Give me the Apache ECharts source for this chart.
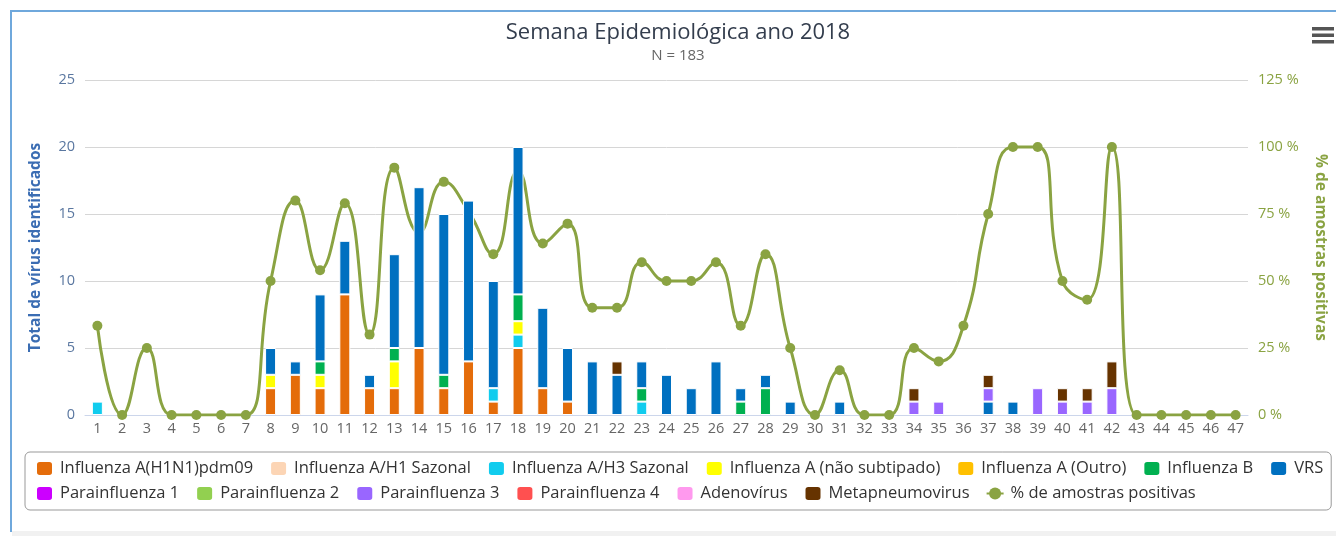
<!DOCTYPE html>
<html>
<head>
<meta charset="utf-8">
<script src="https://cdn.jsdelivr.net/npm/echarts@6/dist/echarts.min.js"></script>
<style>
  body { margin: 0; background: #fff; }
  #frame {
    position: absolute; left: 10px; top: 10px; width: 1330px; height: 520px;
    border-left: 2px solid #6fa8dc; border-top: 2px solid #6fa8dc;
  }
  #strip { position: absolute; left: 12px; top: 531px; width: 1324px; height: 5px; background: #f1f1f1; }
  #chart { position: absolute; left: 0; top: 0; width: 1336px; height: 536px; }
</style>
</head>
<body>
<div id="frame"></div>
<div id="strip"></div>
<div id="chart"></div>
<script>
var semanas = ['1','2','3','4','5','6','7','8','9','10','11','12','13','14','15','16','17','18','19','20',
  '21','22','23','24','25','26','27','28','29','30','31','32','33','34','35','36','37','38','39','40',
  '41','42','43','44','45','46','47'];

// virus counts per week (empty list = no cases in 2018)
var h1n1pdm09 = [0,0,0,0,0,0,0,2,3,2, 9,2,2,5,2,4,1,5,2,1, 0,0,0,0,0,0,0,0,0,0, 0,0,0,0,0,0,0,0,0,0, 0,0,0,0,0,0,0];
var h1Sazonal = [];
var h3Sazonal = [1,0,0,0,0,0,0,0,0,0, 0,0,0,0,0,0,1,1,0,0, 0,0,1,0,0,0,0,0,0,0, 0,0,0,0,0,0,0,0,0,0, 0,0,0,0,0,0,0];
var naoSubtipado = [0,0,0,0,0,0,0,1,0,1, 0,0,2,0,0,0,0,1,0,0, 0,0,0,0,0,0,0,0,0,0, 0,0,0,0,0,0,0,0,0,0, 0,0,0,0,0,0,0];
var fluAOutro = [];
var fluB = [0,0,0,0,0,0,0,0,0,1, 0,0,1,0,1,0,0,2,0,0, 0,0,1,0,0,0,1,2,0,0, 0,0,0,0,0,0,0,0,0,0, 0,0,0,0,0,0,0];
var vrs = [0,0,0,0,0,0,0,2,1,5, 4,1,7,12,12,12,8,11,6,4, 4,3,2,3,2,4,1,1,1,0, 1,0,0,0,0,0,1,1,0,0, 0,0,0,0,0,0,0];
var para1 = [];
var para2 = [];
var para3 = [0,0,0,0,0,0,0,0,0,0, 0,0,0,0,0,0,0,0,0,0, 0,0,0,0,0,0,0,0,0,0, 0,0,0,1,1,0,1,0,2,1, 1,2,0,0,0,0,0];
var para4 = [];
var adeno = [];
var metapneumo = [0,0,0,0,0,0,0,0,0,0, 0,0,0,0,0,0,0,0,0,0, 0,1,0,0,0,0,0,0,0,0, 0,0,0,1,0,0,1,0,0,1, 1,2,0,0,0,0,0];

// % de amostras positivas
var positivas = [33.3,0,25,0,0,0,0,50,80,54, 79,30,92.3,68,87,76,60,91,64,71.4,
  40,40,57,50,50,57,33.3,60,25,0, 16.7,0,0,25,20,33.3,75,100,100,50, 43,100,0,0,0,0,0];

var virus = [
  ['Influenza A(H1N1)pdm09', h1n1pdm09, '#e46c0a'],
  ['Influenza A/H1 Sazonal', h1Sazonal, '#fcd5b5'],
  ['Influenza A/H3 Sazonal', h3Sazonal, '#11ccee'],
  ['Influenza A (não subtipado)', naoSubtipado, '#ffff00'],
  ['Influenza A (Outro)', fluAOutro, '#ffc000'],
  ['Influenza B', fluB, '#00b050'],
  ['VRS', vrs, '#0070c0'],
  ['Parainfluenza 1', para1, '#cc00ff'],
  ['Parainfluenza 2', para2, '#92d050'],
  ['Parainfluenza 3', para3, '#9966ff'],
  ['Parainfluenza 4', para4, '#ff5050'],
  ['Adenovírus', adeno, '#ff99ee'],
  ['Metapneumovirus', metapneumo, '#663300']
];

var series = virus.map(function (v) {
  return {
    name: v[0],
    type: 'bar',
    stack: 'virus',
    barWidth: 11,
    z: 3,
    itemStyle: { color: v[2], borderColor: '#fff', borderWidth: 1 },
    data: v[1].map(function (n) { return n ? n : null; })
  };
});
series.push({
  name: '% de amostras positivas',
  type: 'line',
  yAxisIndex: 1,
  smooth: 0.5,
  z: 1,
  symbol: 'circle',
  symbolSize: 10,
  itemStyle: { color: '#8aa342' },
  lineStyle: { width: 3, color: '#8aa342' },
  data: positivas
});

var option = {
  animation: false,
  textStyle: { fontFamily: 'Open Sans' },
  title: {
    text: 'Semana Epidemiológica ano 2018',
    subtext: 'N = 183',
    left: 678,
    top: 22,
    padding: 0,
    textAlign: 'center',
    itemGap: 4,
    textStyle: { fontFamily: 'Open Sans', fontSize: 22, fontWeight: 'normal', color: '#333d4d' },
    subtextStyle: { fontFamily: 'Open Sans', fontSize: 15, color: '#666' }
  },
  legend: {
    left: 25,
    top: 452,
    width: 1300,
    padding: [8, 0, 8, 10],
    itemWidth: 17,
    itemHeight: 15,
    itemGap: 8,
    borderColor: '#999',
    borderWidth: 1,
    borderRadius: 5,
    textStyle: { fontFamily: 'Open Sans', fontSize: 16.5, color: '#333', lineHeight: 17, padding: [0, 8, 0, 2] },
    data: virus.map(function (v) { return v[0]; }).concat(['% de amostras positivas'])
  },
  grid: { left: 85, right: 88, top: 80, bottom: 121 },
  xAxis: {
    type: 'category',
    data: semanas,
    axisLine: { lineStyle: { color: '#ccd6eb' } },
    axisTick: { length: 8, lineStyle: { color: '#ccd6eb' } },
    axisLabel: { color: '#666', fontSize: 14.5, margin: 6 }
  },
  yAxis: [
    {
      type: 'value',
      min: 0, max: 25, interval: 5,
      name: 'Total de vírus identificados',
      nameLocation: 'middle',
      nameGap: 41,
      nameTextStyle: { color: '#3b6db3', fontSize: 15.5, fontWeight: 'bold' },
      axisLabel: { color: '#5a77a0', fontSize: 14.5, margin: 10 },
      splitLine: { lineStyle: { color: '#d6d6d6' } }
    },
    {
      type: 'value',
      min: 0, max: 125, interval: 25,
      name: '% de amostras positivas',
      nameLocation: 'middle',
      nameRotate: -90,
      nameGap: 64,
      nameTextStyle: { color: '#8aa342', fontSize: 15.5, fontWeight: 'bold' },
      axisLabel: { color: '#8aa342', fontSize: 14.5, margin: 10, formatter: '{value} %' },
      splitLine: { show: false }
    }
  ],
  graphic: [
    { type: 'rect', left: 1312, top: 27, shape: { width: 22, height: 3.5 }, style: { fill: '#555' } },
    { type: 'rect', left: 1312, top: 33.5, shape: { width: 22, height: 3.5 }, style: { fill: '#555' } },
    { type: 'rect', left: 1312, top: 40, shape: { width: 22, height: 3.5 }, style: { fill: '#555' } }
  ],
  series: series
};

var chart = echarts.init(document.getElementById('chart'));
chart.setOption(option);
</script>
</body>
</html>
